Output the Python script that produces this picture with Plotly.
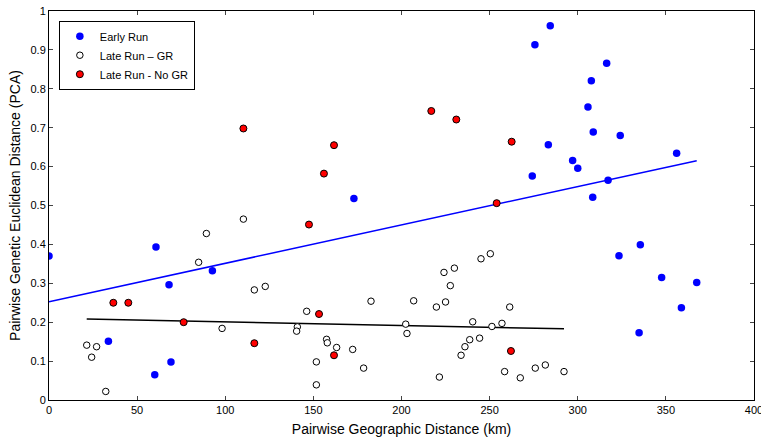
import numpy as np
import plotly.graph_objects as go

early_x = [0, 60.7, 68.1, 92.7, 33.7, 60, 69.2, 173, 308.5, 317.2, 323.4, 335.5, 347.6, 367.5,
           358.8, 334.8, 284.4, 275.7, 316.4, 307.7, 305.8, 308.8, 324.1, 283.3, 297.1, 300, 274.2, 356.1]
early_y = [0.370, 0.393, 0.296, 0.332, 0.151, 0.065, 0.098, 0.518, 0.521, 0.565, 0.371, 0.399, 0.315, 0.302,
           0.237, 0.173, 0.962, 0.913, 0.866, 0.821, 0.753, 0.689, 0.680, 0.656, 0.616, 0.596, 0.576, 0.634]

gr_x = [21.4, 27, 24.2, 32.2, 84.9, 89.3, 98.2, 110.3, 116.5, 122.7, 140.9, 140.5, 146.2, 151.7, 151.7,
        157.5, 157.9, 163.2, 172.3, 178.5, 182.7, 202.4, 203.1, 206.9, 219.8, 221.5, 224.1, 225, 227.7,
        230, 233.8, 236, 238.7, 240.4, 244.3, 245.1, 250.4, 251.3, 257, 261.4, 258.5, 267.4, 275.9, 281.6, 292.2]
gr_y = [0.141, 0.137, 0.110, 0.022, 0.354, 0.428, 0.184, 0.465, 0.283, 0.292, 0.188, 0.177, 0.228, 0.098, 0.039,
        0.156, 0.147, 0.135, 0.130, 0.082, 0.254, 0.195, 0.171, 0.255, 0.239, 0.059, 0.328, 0.252, 0.294,
        0.339, 0.115, 0.137, 0.155, 0.201, 0.159, 0.363, 0.376, 0.189, 0.197, 0.239, 0.073, 0.057, 0.082, 0.090, 0.073]

nogr_x = [36.5, 45, 76.4, 116.5, 110.3, 147.5, 153.2, 156, 161.7, 161.7, 216.9, 231.1, 254, 262.5, 262.1]
nogr_y = [0.250, 0.250, 0.200, 0.146, 0.698, 0.451, 0.221, 0.582, 0.655, 0.115, 0.743, 0.721, 0.506, 0.664, 0.126]

x_ticks = [0, 50, 100, 150, 200, 250, 300, 350, 400]
y_ticks = [0, 0.1, 0.2, 0.3, 0.4, 0.5, 0.6, 0.7, 0.8, 0.9, 1]
y_tick_labels = ["0", "0.1", "0.2", "0.3", "0.4", "0.5", "0.6", "0.7", "0.8", "0.9", "1"]


def fit_line(xs, ys):
    m, b = np.polyfit(xs, ys, 1)
    lx = np.array([min(xs), max(xs)])
    return lx, m * lx + b


fig = go.Figure()

ex, ey = fit_line(early_x, early_y)
gx, gy = fit_line(gr_x, gr_y)

fig.add_trace(go.Scatter(x=ex, y=ey, mode="lines", showlegend=False,
                         line=dict(color="#0000ff", width=1.5)))
fig.add_trace(go.Scatter(x=gx, y=gy, mode="lines", showlegend=False,
                         line=dict(color="black", width=1.5)))
fig.add_trace(go.Scatter(x=early_x, y=early_y, mode="markers", name="Early Run",
                         marker=dict(color="#0000ff", size=7.5, line=dict(width=0))))
fig.add_trace(go.Scatter(x=gr_x, y=gr_y, mode="markers", name="Late Run \u2013 GR",
                         marker=dict(color="white", size=6.5, line=dict(color="black", width=1))))
fig.add_trace(go.Scatter(x=nogr_x, y=nogr_y, mode="markers", name="Late Run - No GR",
                         marker=dict(color="#ff0000", size=7, line=dict(color="black", width=1))))

fig.update_layout(
    width=761, height=441,
    margin=dict(l=49, r=7, t=11, b=41, autoexpand=False),
    paper_bgcolor="white", plot_bgcolor="white",
    font=dict(family="Liberation Sans, Arial, sans-serif", size=11, color="black"),
    legend=dict(x=0.014, y=0.975, xanchor="left", yanchor="top",
                bordercolor="black", borderwidth=1, bgcolor="white",
                font=dict(size=11), itemsizing="trace", itemwidth=30,
                tracegroupgap=0),
    showlegend=True,
)
fig.update_xaxes(range=[0, 400], tickvals=x_ticks, ticks="inside", ticklen=4,
                 ticklabeloverflow="allow", automargin=False,
                 showline=True, linecolor="black", linewidth=1, mirror="ticks",
                 showgrid=False, zeroline=False,
                 title=dict(text="Pairwise Geographic Distance (km)", font=dict(size=14), standoff=8))
fig.update_yaxes(range=[0, 1], tickvals=y_ticks, ticktext=y_tick_labels, ticks="inside", ticklen=4,
                 automargin=False,
                 showline=True, linecolor="black", linewidth=1, mirror="ticks",
                 showgrid=False, zeroline=False,
                 title=dict(text="Pairwise Genetic Euclidean Distance (PCA)", font=dict(size=14), standoff=6))

fig.write_html("out.html")
